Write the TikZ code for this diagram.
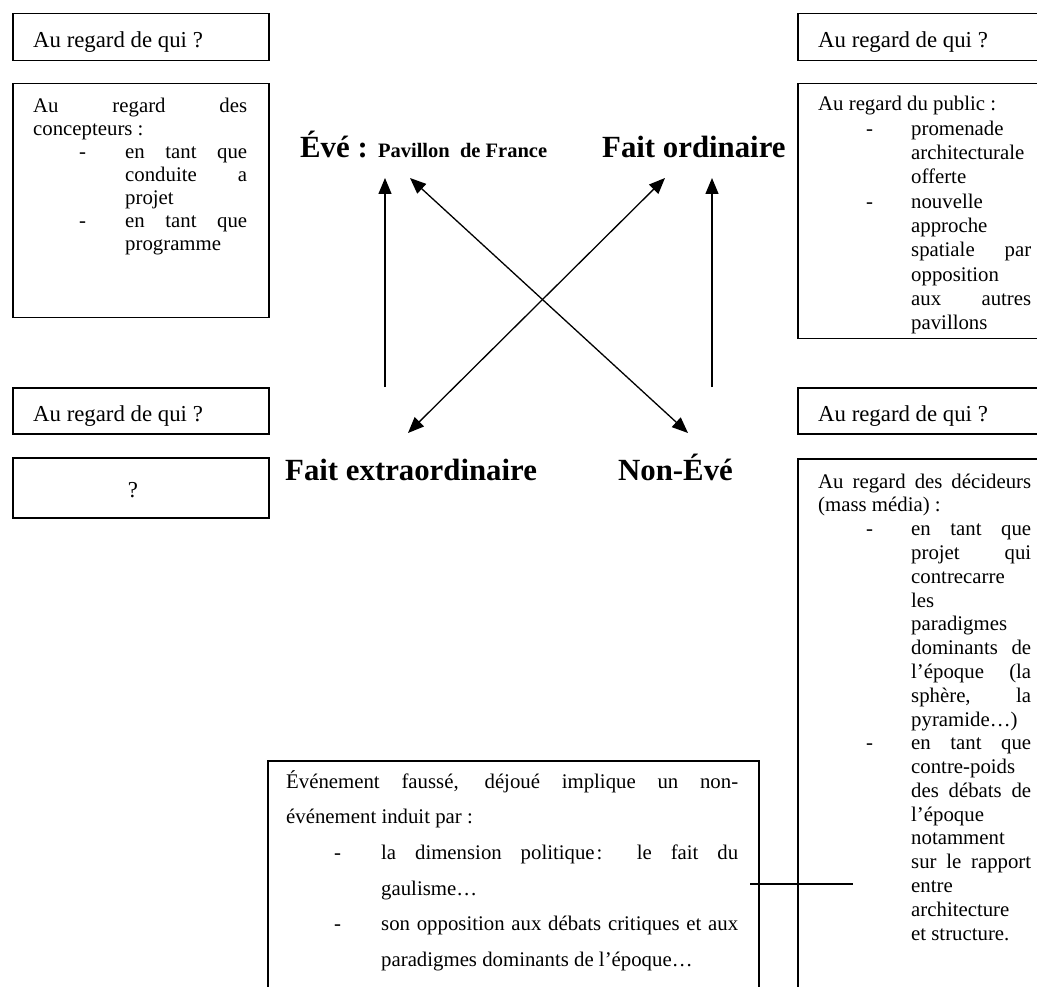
\documentclass[tikz,border=0pt]{standalone}
\usepackage{fontspec}
\setmainfont{Liberation Serif}
\usetikzlibrary{arrows.meta}
\newcommand\myLN[2]{\hbox{\hskip#1\relax #2}}
\newcommand\myLJ[3]{\hbox{\hskip#1\relax\makebox[#2][s]{#3}}}
\newcommand\myDN[3]{\hbox{\rlap{\hskip#1\relax -}\hskip#2\relax #3}}
\newcommand\myDJ[4]{\hbox{\rlap{\hskip#1\relax -}\hskip#2\relax\makebox[#3][s]{#4}}}
\newcommand\myLines[2]{\vtop{\baselineskip=#1\lineskiplimit=-1000pt\lineskip=0pt #2}}
\tikzset{
  box/.style={draw, line width=1.5pt, rectangle, inner sep=0pt, anchor=north west},
  txt/.style={anchor=base west, inner sep=0pt, font=\fontsize{22.8}{24}\selectfont},
  ctxt/.style={anchor=base west, inner sep=0pt, font=\fontsize{20.8}{24}\selectfont},
  big/.style={anchor=base west, inner sep=0pt, font=\fontsize{30.8}{32}\selectfont\bfseries},
  conn/.style={line width=1.3pt, -{Triangle[length=16pt,width=13pt]}},
  conn2/.style={line width=1.3pt, {Triangle[length=16pt,width=13pt]}-{Triangle[length=16pt,width=13pt]}},
  plain/.style={line width=1.5pt}
}
\begin{document}
\begin{tikzpicture}[x=1pt,y=-1pt]
\useasboundingbox (0,0) rectangle (1037,987);
\clip (0,0) rectangle (1037,987);
% top-left
\node[box, minimum width=256pt, minimum height=47pt] (tl1) at (12,13) {};
\node[txt] (tl1t) at (33,48) {Au regard de qui ?};
\node[box, minimum width=256pt, minimum height=234pt] (tl2) at (12,83) {};
\node[ctxt] (tl2t) at (33,113) {\myLines{23pt}{%
\myLJ{0pt}{214pt}{Au regard des}
\myLN{0pt}{concepteurs :}
\myDJ{46pt}{92pt}{122pt}{en tant que}
\myLJ{92pt}{122pt}{conduite a}
\myLN{92pt}{projet}
\myDJ{46pt}{92pt}{122pt}{en tant que}
\myLN{92pt}{programme}}};
% top-right
\node[box, minimum width=256pt, minimum height=47pt] (tr1) at (797,13) {};
\node[txt] (tr1t) at (818,48) {Au regard de qui ?};
\node[box, minimum width=256pt, minimum height=255pt] (tr2) at (797,83) {};
\node[ctxt] (tr2t) at (818,111) {\myLines{24.3pt}{%
\myLN{0pt}{Au regard du public :}
\myDN{48pt}{93pt}{promenade}
\myLN{93pt}{architecturale}
\myLN{93pt}{offerte}
\myDN{48pt}{93pt}{nouvelle}
\myLN{93pt}{approche}
\myLJ{93pt}{120pt}{spatiale par}
\myLN{93pt}{opposition}
\myLJ{93pt}{120pt}{aux autres}
\myLN{93pt}{pavillons}}};
% bottom-left
\node[box, minimum width=256pt, minimum height=46pt] (bl1) at (12,387) {};
\node[txt] (bl1t) at (33,421) {Au regard de qui ?};
\node[box, minimum width=256pt, minimum height=60pt] (bl2) at (12,457) {};
\node[txt, anchor=base] (bl2t) at (133,497) {?};
% bottom-right
\node[box, minimum width=256pt, minimum height=46pt] (br1) at (797,387) {};
\node[txt] (br1t) at (818,421) {Au regard de qui ?};
\node[box, minimum width=256pt, minimum height=600pt] (br2) at (797,458) {};
\node[ctxt] (br2t) at (818,488) {\myLines{23.8pt}{%
\myLJ{0pt}{213pt}{Au regard des décideurs}
\myLN{0pt}{(mass média) :}
\myDJ{48pt}{93pt}{120pt}{en tant que}
\myLJ{93pt}{120pt}{projet qui}
\myLN{93pt}{contrecarre}
\myLN{93pt}{les}
\myLN{93pt}{paradigmes}
\myLJ{93pt}{120pt}{dominants de}
\myLJ{93pt}{120pt}{l’époque (la}
\myLJ{93pt}{120pt}{sphère, la}
\myLN{93pt}{pyramide…)}
\myDJ{48pt}{93pt}{120pt}{en tant que}
\myLN{93pt}{contre-poids}
\myLJ{93pt}{120pt}{des débats de}
\myLN{93pt}{l’époque}
\myLN{93pt}{notamment}
\myLJ{93pt}{120pt}{sur le rapport}
\myLN{93pt}{entre}
\myLN{93pt}{architecture}
\myLN{93pt}{et structure.}}};
% bottom centre
\node[box, minimum width=491pt, minimum height=300pt] (bc) at (267,760) {};
\node[ctxt] (bct) at (286,788) {\myLines{35.7pt}{%
\myLJ{0pt}{452pt}{Événement faussé, déjoué implique un non-}
\myLN{0pt}{événement induit par :}
\myDJ{48pt}{95pt}{357pt}{la dimension politique\kern2pt: le fait du}
\myLN{95pt}{gaulisme…}
\myDJ{48pt}{95pt}{357pt}{son opposition aux débats critiques et aux}
\myLN{95pt}{paradigmes dominants de l’époque…}}};
% big labels
\node[big] (eve) at (300,158) {Évé : {\fontsize{20.5}{22}\selectfont Pavillon\ \ de France}};
\node[big] (ord) at (602,158) {Fait ordinaire};
\node[big] (extra) at (285,480) {Fait extraordinaire};
\node[big] (non) at (618,480) {Non-Évé};
% connectors
\coordinate (a1s) at (385,387); \coordinate (a1e) at (385,178);
\coordinate (a2s) at (712,387); \coordinate (a2e) at (712,178);
\coordinate (d1a) at (410,178); \coordinate (d1b) at (688,433);
\coordinate (d2a) at (665,178); \coordinate (d2b) at (408,433);
\draw[conn] (a1s) -- (a1e);
\draw[conn] (a2s) -- (a2e);
\draw[conn2] (d1a) -- (d1b);
\draw[conn2] (d2a) -- (d2b);
\coordinate (hl) at (750,884); \coordinate (hr) at (853,884);
\draw[plain] (hl) -- (hr);
\end{tikzpicture}
\end{document}
